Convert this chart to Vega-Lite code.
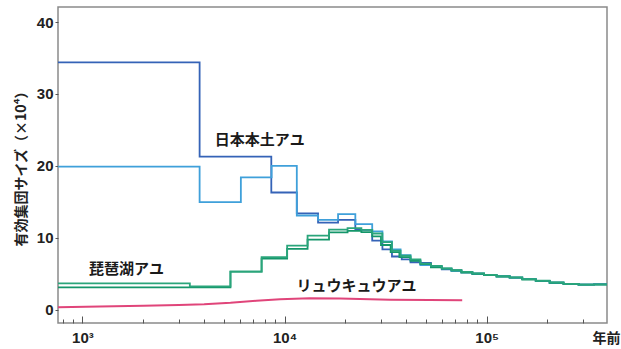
{
  "$schema": "https://vega.github.io/schema/vega-lite/v6.json",
  "width": 549,
  "height": 316,
  "autosize": {"type": "none"},
  "padding": {"left": 58, "top": 7, "right": 14, "bottom": 26},
  "background": "white",
  "config": {
    "view": {"stroke": "#8a8a8a", "strokeWidth": 1.5},
    "axis": {
      "grid": false,
      "domain": false,
      "ticks": true,
      "tickColor": "#555555",
      "labelColor": "#222222",
      "labelFont": "Liberation Sans",
      "labelFontWeight": "bold",
      "labelFontSize": 15,
      "zindex": 1
    }
  },
  "resolve": {"axis": {"x": "independent"}},
  "datasets": {
    "steps": [
      {"s": "a", "t": 757, "v": 34.4}, {"s": "a", "t": 3800, "v": 21.3}, {"s": "a", "t": 8600, "v": 16.3}, {"s": "a", "t": 11500, "v": 13.4}, {"s": "a", "t": 14650, "v": 12.1}, {"s": "a", "t": 18400, "v": 12.5}, {"s": "a", "t": 22400, "v": 11.1}, {"s": "a", "t": 27150, "v": 9.6}, {"s": "a", "t": 30500, "v": 8.4}, {"s": "a", "t": 34000, "v": 7.4}, {"s": "a", "t": 38000, "v": 7.0}, {"s": "a", "t": 42000, "v": 6.6}, {"s": "a", "t": 47000, "v": 6.5}, {"s": "a", "t": 53000, "v": 6.0}, {"s": "a", "t": 60000, "v": 5.6}, {"s": "a", "t": 67000, "v": 5.45}, {"s": "a", "t": 75000, "v": 5.2}, {"s": "a", "t": 85000, "v": 5.0}, {"s": "a", "t": 97000, "v": 4.8}, {"s": "a", "t": 112000, "v": 4.65}, {"s": "a", "t": 130000, "v": 4.45}, {"s": "a", "t": 150000, "v": 4.25}, {"s": "a", "t": 175000, "v": 4.0}, {"s": "a", "t": 205000, "v": 3.75}, {"s": "a", "t": 240000, "v": 3.6}, {"s": "a", "t": 285000, "v": 3.5}, {"s": "a", "t": 340000, "v": 3.55}, {"s": "a", "t": 394000, "v": 3.55},
      {"s": "b", "t": 757, "v": 19.9}, {"s": "b", "t": 3800, "v": 14.95}, {"s": "b", "t": 6080, "v": 18.4}, {"s": "b", "t": 8630, "v": 20.0}, {"s": "b", "t": 11500, "v": 13.1}, {"s": "b", "t": 14650, "v": 12.5}, {"s": "b", "t": 18400, "v": 13.3}, {"s": "b", "t": 22400, "v": 11.9}, {"s": "b", "t": 27150, "v": 10.9}, {"s": "b", "t": 30500, "v": 9.5}, {"s": "b", "t": 34000, "v": 8.4}, {"s": "b", "t": 37500, "v": 7.6}, {"s": "b", "t": 42000, "v": 6.9}, {"s": "b", "t": 47000, "v": 6.2}, {"s": "b", "t": 53000, "v": 6.0}, {"s": "b", "t": 60000, "v": 5.7}, {"s": "b", "t": 67000, "v": 5.4}, {"s": "b", "t": 75000, "v": 5.2}, {"s": "b", "t": 85000, "v": 5.0}, {"s": "b", "t": 97000, "v": 4.8}, {"s": "b", "t": 112000, "v": 4.65}, {"s": "b", "t": 130000, "v": 4.45}, {"s": "b", "t": 150000, "v": 4.25}, {"s": "b", "t": 175000, "v": 4.0}, {"s": "b", "t": 205000, "v": 3.75}, {"s": "b", "t": 240000, "v": 3.58}, {"s": "b", "t": 285000, "v": 3.48}, {"s": "b", "t": 340000, "v": 3.52}, {"s": "b", "t": 394000, "v": 3.52},
      {"s": "c", "t": 757, "v": 3.1}, {"s": "c", "t": 5400, "v": 5.3}, {"s": "c", "t": 7700, "v": 7.1}, {"s": "c", "t": 10300, "v": 8.45}, {"s": "c", "t": 13000, "v": 9.75}, {"s": "c", "t": 16600, "v": 10.75}, {"s": "c", "t": 20500, "v": 10.95}, {"s": "c", "t": 24000, "v": 10.8}, {"s": "c", "t": 27150, "v": 10.2}, {"s": "c", "t": 30000, "v": 9.0}, {"s": "c", "t": 33500, "v": 8.0}, {"s": "c", "t": 37000, "v": 7.3}, {"s": "c", "t": 42000, "v": 6.8}, {"s": "c", "t": 47000, "v": 6.35}, {"s": "c", "t": 53000, "v": 5.9}, {"s": "c", "t": 60000, "v": 5.7}, {"s": "c", "t": 67000, "v": 5.45}, {"s": "c", "t": 75000, "v": 5.15}, {"s": "c", "t": 85000, "v": 5.0}, {"s": "c", "t": 97000, "v": 4.8}, {"s": "c", "t": 112000, "v": 4.6}, {"s": "c", "t": 130000, "v": 4.45}, {"s": "c", "t": 150000, "v": 4.2}, {"s": "c", "t": 175000, "v": 4.0}, {"s": "c", "t": 205000, "v": 3.75}, {"s": "c", "t": 240000, "v": 3.58}, {"s": "c", "t": 285000, "v": 3.48}, {"s": "c", "t": 340000, "v": 3.5}, {"s": "c", "t": 394000, "v": 3.5},
      {"s": "d", "t": 757, "v": 3.65}, {"s": "d", "t": 3400, "v": 3.25}, {"s": "d", "t": 5400, "v": 5.3}, {"s": "d", "t": 7700, "v": 7.3}, {"s": "d", "t": 10300, "v": 8.9}, {"s": "d", "t": 13000, "v": 10.3}, {"s": "d", "t": 16600, "v": 11.15}, {"s": "d", "t": 20500, "v": 11.35}, {"s": "d", "t": 24000, "v": 11.1}, {"s": "d", "t": 27150, "v": 10.6}, {"s": "d", "t": 30500, "v": 9.4}, {"s": "d", "t": 34000, "v": 8.2}, {"s": "d", "t": 37500, "v": 7.5}, {"s": "d", "t": 42000, "v": 7.0}, {"s": "d", "t": 47000, "v": 6.4}, {"s": "d", "t": 53000, "v": 6.1}, {"s": "d", "t": 60000, "v": 5.75}, {"s": "d", "t": 67000, "v": 5.5}, {"s": "d", "t": 75000, "v": 5.25}, {"s": "d", "t": 85000, "v": 5.05}, {"s": "d", "t": 97000, "v": 4.85}, {"s": "d", "t": 112000, "v": 4.65}, {"s": "d", "t": 130000, "v": 4.5}, {"s": "d", "t": 150000, "v": 4.25}, {"s": "d", "t": 175000, "v": 4.05}, {"s": "d", "t": 205000, "v": 3.8}, {"s": "d", "t": 240000, "v": 3.6}, {"s": "d", "t": 285000, "v": 3.5}, {"s": "d", "t": 340000, "v": 3.53}, {"s": "d", "t": 394000, "v": 3.53}
    ],
    "pink": [
      {"t": 757, "v": 0.35}, {"t": 1220, "v": 0.45}, {"t": 2000, "v": 0.55}, {"t": 3000, "v": 0.65}, {"t": 4000, "v": 0.75}, {"t": 5400, "v": 0.95}, {"t": 7250, "v": 1.25}, {"t": 9500, "v": 1.45}, {"t": 13300, "v": 1.6}, {"t": 18800, "v": 1.55}, {"t": 33300, "v": 1.4}, {"t": 52300, "v": 1.35}, {"t": 75700, "v": 1.3}
    ],
    "labels": [
      {"label": "日本本土アユ", "t": 7550, "v": 23.6},
      {"label": "琵琶湖アユ", "t": 1650, "v": 5.65},
      {"label": "リュウキュウアユ", "t": 22700, "v": 3.24}
    ]
  },
  "layer": [
    {
      "data": {"name": "steps"},
      "mark": {"type": "line", "interpolate": "step-after", "strokeWidth": 1.8},
      "encoding": {
        "x": {
          "field": "t",
          "type": "quantitative",
          "scale": {"type": "log", "domain": [757, 394000], "nice": false},
          "axis": {
            "orient": "bottom",
            "offset": -7,
            "values": [1000, 10000, 100000],
            "labelExpr": "datum.value == 1000 ? '10³' : datum.value == 10000 ? '10⁴' : '10⁵'",
            "tickSize": 7,
            "tickWidth": 1,
            "labelPadding": 7,
            "labelFlush": false,
            "labelOverlap": false,
            "title": "年前",
            "titleFont": "Noto Sans CJK JP",
            "titleFontSize": 14,
            "titleFontWeight": "bold",
            "titleColor": "#222222",
            "titleAlign": "center",
            "titleBaseline": "middle",
            "titleX": 548,
            "titleY": 22
          }
        },
        "y": {
          "field": "v",
          "type": "quantitative",
          "scale": {"domain": [-1.85, 42.1], "nice": false, "zero": false},
          "axis": {
            "values": [0, 10, 20, 30, 40],
            "tickSize": 3,
            "tickWidth": 1,
            "labelPadding": 2,
            "title": "有効集団サイズ（×10⁴）",
            "titleFont": "Noto Sans CJK JP",
            "titleFontSize": 14,
            "titleFontWeight": "bold",
            "titleColor": "#222222",
            "titlePadding": 8
          }
        },
        "color": {
          "field": "s",
          "type": "nominal",
          "scale": {"domain": ["a", "b", "c", "d"], "range": ["#3563b7", "#3fa0da", "#14966a", "#2aa57b"]},
          "legend": null
        }
      }
    },
    {
      "data": {"name": "pink"},
      "mark": {"type": "line", "strokeWidth": 2, "color": "#e0457a"},
      "encoding": {
        "x": {
          "field": "t",
          "type": "quantitative",
          "axis": {
            "orient": "bottom",
            "offset": -4,
            "values": [800, 900, 2000, 3000, 4000, 5000, 6000, 7000, 8000, 9000, 20000, 30000, 40000, 50000, 60000, 70000, 80000, 90000, 200000, 300000],
            "labels": false,
            "tickSize": 4,
            "tickWidth": 1,
            "title": null
          }
        },
        "y": {"field": "v", "type": "quantitative"}
      }
    },
    {
      "data": {"name": "labels"},
      "mark": {"type": "text", "font": "Noto Sans CJK JP", "fontWeight": "bold", "fontSize": 15, "color": "#1a1a1a", "align": "center", "baseline": "middle"},
      "encoding": {
        "x": {"field": "t", "type": "quantitative", "axis": null},
        "y": {"field": "v", "type": "quantitative"},
        "text": {"field": "label"}
      }
    }
  ]
}
